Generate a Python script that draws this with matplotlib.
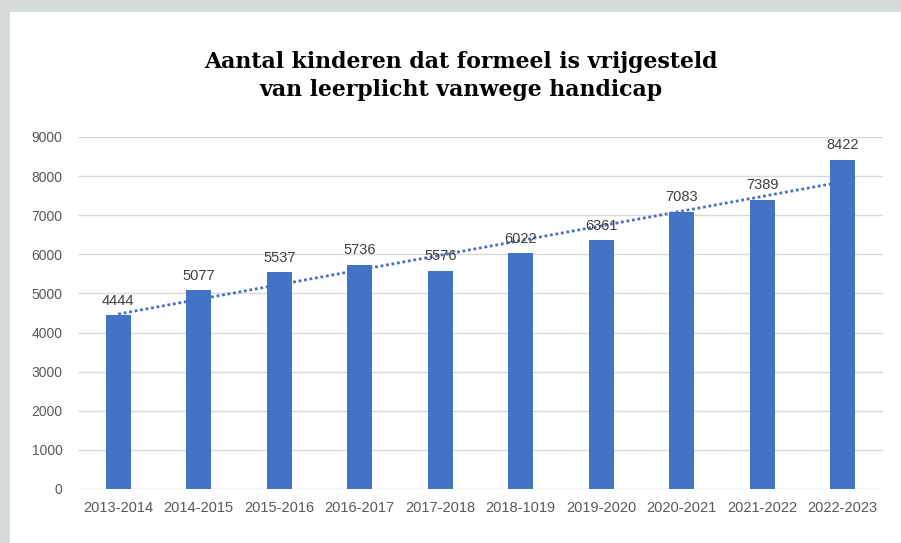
import numpy as np
import matplotlib
matplotlib.use("Agg")
from matplotlib import pyplot as plt
from matplotlib.patches import Rectangle

# Gegevens
schooljaren = ['2013-2014', '2014-2015', '2015-2016', '2016-2017', '2017-2018',
               '2018-1019', '2019-2020', '2020-2021', '2021-2022', '2022-2023']
aantal_kinderen = [4444, 5077, 5537, 5736, 5576, 6022, 6361, 7083, 7389, 8422]
y_ticks = [0, 1000, 2000, 3000, 4000, 5000, 6000, 7000, 8000, 9000]

blauw = '#4472C4'

fig = plt.figure(figsize=(9.01, 5.43), dpi=100)
fig.patch.set_facecolor('#d6dcda')

# Wit paneel met lichte schaduw
fig.patches.append(Rectangle((12 / 901, 0), 1, 1 - 14 / 543, transform=fig.transFigure,
                             facecolor='#c4cac8', edgecolor='none', zorder=-3))
fig.patches.append(Rectangle((10 / 901, 0), 1, 1 - 12 / 543, transform=fig.transFigure,
                             facecolor='white', edgecolor='none', zorder=-2))

ax = fig.add_axes([78 / 901, 1 - 489 / 543, 805 / 901, 352 / 543])
ax.set_facecolor('none')

x = np.arange(len(schooljaren))

# Trendlijn (lineair)
coef = np.polyfit(x, aantal_kinderen, 1)
ax.plot(x, np.polyval(coef, x), linestyle=(0, (1, 1)), color='#4a6fbf',
        linewidth=2.0, zorder=2)

# Staven
bars = ax.bar(x, aantal_kinderen, width=0.31, color=blauw, zorder=3)
for xi, val in zip(x, aantal_kinderen):
    ax.annotate(str(val), (xi, val), xytext=(0, 5.5), textcoords='offset points',
                ha='center', va='bottom', fontsize=10.5, color='#404040',
                family='Liberation Sans', zorder=4)

ax.set_xlim(-0.5, len(schooljaren) - 0.5)
ax.set_ylim(0, 9000)
ax.set_yticks(y_ticks)
ax.set_xticks(x)
ax.set_xticklabels(schooljaren)
ax.grid(axis='y', color='#d9d9d9', linewidth=1, zorder=0)
ax.set_axisbelow(True)
for s in ax.spines.values():
    s.set_visible(False)
ax.tick_params(axis='y', length=0, pad=11, labelsize=10, labelcolor='#595959')
ax.tick_params(axis='x', length=0, pad=9, labelsize=10.5, labelcolor='#595959')
for lbl in ax.get_xticklabels() + ax.get_yticklabels():
    lbl.set_family('Liberation Sans')

# Titel
fig.text(461 / 901, 1 - 76 / 543,
         'Aantal kinderen dat formeel is vrijgesteld\nvan leerplicht vanwege handicap',
         ha='center', va='center', fontsize=15.8, fontweight='heavy',
         family='DejaVu Serif', linespacing=1.3, color='black')

fig.savefig('out.png', dpi=100, facecolor=fig.get_facecolor())
